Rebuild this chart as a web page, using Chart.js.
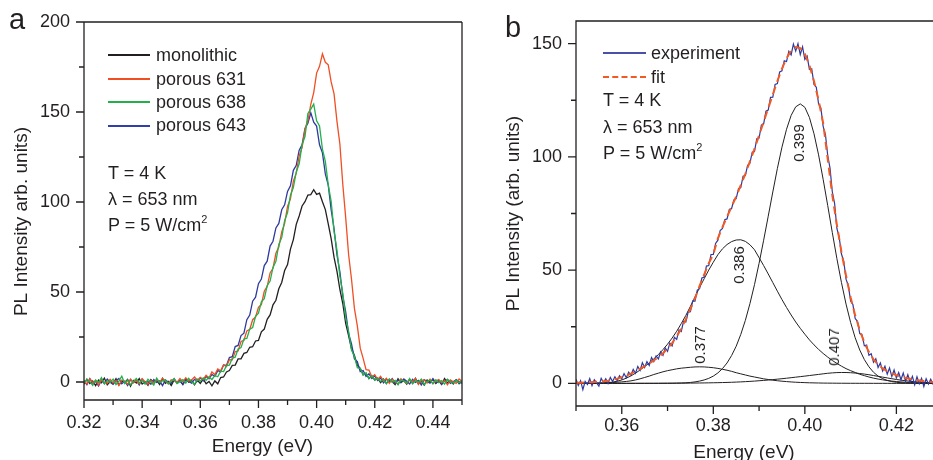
<!DOCTYPE html>
<html>
<head>
<meta charset="utf-8">
<title>PL spectra</title>
<script src="https://cdn.jsdelivr.net/npm/chart.js@4.4.1/dist/chart.umd.min.js"></script>
<style>
  html, body { margin: 0; padding: 0; background: #fff; }
  body {
    width: 933px; height: 460px; overflow: hidden; position: relative;
    font-family: "Liberation Sans", Arial, sans-serif; color: #231f20;
  }
  .panel { position: absolute; top: 0; }
  #panelA { left: 0; width: 470px; height: 460px; }
  #panelB { left: 490px; width: 445px; height: 480px; }
  .txt { position: absolute; font-size: 18px; line-height: 20px; white-space: nowrap; }
  .txt sup { font-size: 11px; line-height: 0; position: relative; top: -1px; }
  .key { position: absolute; height: 1.6px; }
  .key.dash { height: 0; border-top: 2px dashed #f15a24; }
  .peak {
    position: absolute; font-size: 15px; line-height: 16px; white-space: nowrap;
    transform: translate(-50%, -50%) rotate(-90deg);
  }
  .letter { position: absolute; font-size: 29px; line-height: 30px; }
</style>
</head>
<body>
<div class="panel" id="panelA"><canvas id="chartA" width="470" height="460"></canvas></div>
<div class="panel" id="panelB"><canvas id="chartB" width="445" height="480"></canvas></div>

<!-- panel letters -->
<div class="letter" style="left:9px;top:4px;">a</div>
<div class="letter" style="left:505px;top:12px;">b</div>

<!-- panel a key and conditions -->
<div class="key" style="left:108px;top:54px;width:42px;background:#231f20;"></div>
<div class="key" style="left:108px;top:78px;width:42px;background:#f04e23;"></div>
<div class="key" style="left:108px;top:101px;width:42px;background:#22b04b;"></div>
<div class="key" style="left:108px;top:125px;width:42px;background:#3140a8;"></div>
<div class="txt" style="left:156px;top:45px;">monolithic</div>
<div class="txt" style="left:156px;top:69px;">porous 631</div>
<div class="txt" style="left:156px;top:92px;">porous 638</div>
<div class="txt" style="left:156px;top:115px;">porous 643</div>
<div class="txt" style="left:108px;top:163px;">T = 4 K</div>
<div class="txt" style="left:108px;top:189px;">&lambda; = 653 nm</div>
<div class="txt" style="left:108px;top:215px;">P = 5 W/cm<sup>2</sup></div>

<!-- panel b key and conditions -->
<div class="key" style="left:603px;top:52px;width:43px;background:#4a4fa8;"></div>
<div class="key dash" style="left:603px;top:76px;width:43px;"></div>
<div class="txt" style="left:651px;top:43px;">experiment</div>
<div class="txt" style="left:651px;top:67px;">fit</div>
<div class="txt" style="left:603px;top:90px;">T = 4 K</div>
<div class="txt" style="left:603px;top:117px;">&lambda; = 653 nm</div>
<div class="txt" style="left:603px;top:143px;">P = 5 W/cm<sup>2</sup></div>

<!-- peak positions of the fitted components -->
<div class="peak" style="left:799px;top:143px;">0.399</div>
<div class="peak" style="left:739px;top:265px;">0.386</div>
<div class="peak" style="left:700px;top:345px;">0.377</div>
<div class="peak" style="left:834px;top:347px;">0.407</div>

<script>
'use strict';

/* ──────────────────────────────────
   Data, panel a (0.320 .. 0.450 eV, 0.001 eV per point)
   ────────────────────────────────── */
var energyStartA = 0.32;
var energyStepA = 0.001;

var monolithic = [
  -1.2, 1.5, -0.8, 0.6, -2.0, 1.1, -0.4, 2.2, -1.5, 0.3,
  -0.9, 1.8, -1.7, 0.5, -0.2, 1.4, -2.3, 0.8, -0.6, 1.9,
  -1.1, 0.2, -1.8, 1.3, -0.3, 0.9, -1.4, 2.0, -0.7, 0.4,
  -1.9, 1.2, -0.5, 0.7, -1.3, 1.6, -0.1, 0.9, -1.6, 1.0,
  -0.8, 1.7, -1.0, 0.3, -2.1, 0.6, -1.0, 2.5, 2.8, 5.6,
  6.4, 9.2, 9.4, 12.8, 12.9, 15.9, 16.4, 19.3, 19.6, 22.8,
  23.1, 27.9, 29.4, 34.8, 37.3, 42.9, 45.4, 51.8, 55.3, 61.9,
  65.2, 73.8, 79.1, 87.6, 92.2, 97.8, 100.2, 103.9, 104.1, 106.8,
  104.2, 104.9, 100.1, 95.8, 87.9, 79.6, 69.2, 61.5, 51.4, 43.6,
  32.5, 25.8, 18.4, 14.7, 9.2, 7.6, 4.1, 4.8, 1.9, 3.3,
  1.2, 2.1, -0.4, 1.6, -0.9, 1.3, 0.2, -1.5, 1.8, -0.3,
  0.9, -1.2, 1.4, -0.6, 2.0, -1.0, 0.5, -1.7, 1.1, -0.2,
  1.5, -0.8, 0.7, -1.3, 1.9, -0.5, 0.6, -1.1, 1.3, 0.1,
  -0.7
];

var porous631 = [
  0.4, -1.1, 1.7, -0.3, 0.9, -1.6, 1.2, 0.0, -0.8, 1.5,
  -0.5, 0.8, -1.9, 1.1, 0.3, -1.2, 1.6, -0.4, 0.6, -1.0,
  1.8, 0.2, -1.3, 0.9, -0.6, 1.4, -0.1, 2.0, 0.5, -0.9,
  1.3, 0.7, -0.2, 1.9, 0.1, 2.3, 0.6, 1.2, 2.8, 1.0,
  2.6, 1.4, 3.7, 2.2, 5.6, 4.1, 7.3, 6.2, 9.5, 8.6,
  12.4, 12.3, 16.9, 17.2, 22.5, 23.1, 28.4, 29.2, 34.6, 36.1,
  41.5, 43.0, 50.4, 53.1, 60.6, 63.2, 71.5, 75.0, 83.4, 88.2,
  97.5, 101.8, 111.6, 116.0, 125.7, 130.2, 140.4, 145.1, 154.3, 160.8,
  171.6, 175.4, 182.3, 177.6, 176.2, 166.7, 160.1, 144.8, 132.2, 109.9,
  91.3, 70.8, 57.1, 40.9, 31.2, 18.8, 13.1, 6.9, 6.6, 2.8,
  4.1, 1.4, 3.2, 0.6, 2.1, -0.7, 1.5, 0.2, -1.2, 1.8,
  0.4, -0.9, 1.3, -0.2, 2.0, -1.4, 0.8, 1.1, -0.6, 1.6,
  -1.0, 0.5, 1.4, -0.3, 0.9, -1.5, 1.2, 0.1, -0.8, 1.7,
  0.3
];

var porous638 = [
  -0.6, 1.4, 0.2, -1.8, 1.1, -0.3, 2.4, -1.0, 0.7, -0.2,
  1.6, -1.4, 0.5, 3.2, -0.8, 1.0, -1.6, 0.3, 1.9, -0.5,
  0.8, -1.2, 1.5, 0.0, -1.7, 2.1, -0.4, 0.6, 1.2, -1.1,
  0.4, 1.8, -0.9, 0.2, 1.3, -0.6, 2.0, 0.1, -1.3, 1.6,
  0.5, 2.3, 0.9, 2.8, 1.4, 3.6, 2.9, 6.0, 5.8, 9.1,
  9.4, 13.2, 13.8, 18.3, 19.1, 23.9, 24.2, 29.4, 30.3, 36.5,
  38.2, 44.6, 46.3, 53.5, 56.1, 63.7, 67.0, 76.4, 80.2, 89.6,
  94.1, 103.8, 108.0, 116.7, 121.2, 131.9, 136.4, 149.2, 151.6, 154.4,
  145.1, 142.3, 129.4, 122.6, 109.5, 100.4, 83.7, 73.2, 58.8, 49.3,
  35.6, 28.1, 17.7, 14.2, 7.9, 7.6, 3.8, 5.1, 1.9, 3.6,
  0.9, 2.0, 0.3, 1.4, -0.8, 1.7, -0.2, 0.9, -1.5, 1.2,
  0.5, -0.6, 1.9, -1.1, 0.7, -0.1, 1.6, -1.4, 0.4, 1.1,
  -0.9, 1.3, -0.3, 0.8, -1.2, 1.5, 0.2, -0.7, 1.0, -0.4,
  0.6
];

var porous643 = [
  0.8, -1.5, 1.9, -0.6, 0.3, -2.2, 1.0, -0.9, 1.6, -0.1,
  -1.3, 0.7, 2.0, -1.0, 0.4, -1.9, 1.3, -0.4, 0.9, -1.6,
  1.7, -0.7, 0.2, -1.2, 1.4, -0.3, 0.6, -2.0, 1.1, 0.0,
  -0.8, 1.8, -0.5, 0.8, -1.4, 1.2, 0.3, -0.6, 1.5, 0.4,
  2.3, 0.6, 3.1, 1.8, 4.2, 3.1, 6.3, 5.6, 9.4, 9.2,
  13.6, 14.1, 19.7, 20.3, 25.8, 27.1, 34.6, 37.2, 44.9, 47.1,
  54.6, 57.2, 64.7, 67.1, 75.5, 78.2, 85.6, 88.1, 95.7, 98.4,
  105.9, 109.0, 117.6, 120.4, 128.8, 131.7, 140.9, 143.8, 149.6, 144.3,
  142.2, 131.8, 127.3, 115.6, 109.4, 95.8, 85.1, 70.6, 61.2, 47.7,
  39.0, 26.9, 21.2, 12.8, 11.3, 5.8, 6.4, 3.1, 4.6, 1.9,
  3.4, 0.8, 2.2, -0.5, 1.6, 0.1, 1.9, -0.9, 1.2, -0.3,
  1.7, 0.4, -1.1, 1.5, -0.2, 0.9, -1.6, 1.3, 0.2, -0.7,
  1.8, -0.4, 1.0, -1.3, 0.6, 1.4, -0.8, 0.3, 1.1, -1.0,
  0.5
];

var xMajorA = [0.32, 0.34, 0.36, 0.38, 0.40, 0.42, 0.44];
var xMinorA = [0.33, 0.35, 0.37, 0.39, 0.41, 0.43, 0.45];
var yMajorA = [0, 50, 100, 150, 200];
var yMinorA = [25, 75, 125, 175];

/* ──────────────────────────────────
   Data, panel b
   experiment: 0.350 .. 0.428 eV, 0.0005 eV per point
   fit and components: 0.350 .. 0.428 eV, 0.001 eV per point
   ────────────────────────────────── */
var energyStartB = 0.35;
var expStepB = 0.0005;
var fitStepB = 0.001;

var experiment = [
  1.8, -0.9, 1.2, -2.8, 0.9, -0.5, 2.1, -1.0, 1.6, 0.2,
  -1.2, 2.2, 0.4, 2.0, -0.1, 2.6, 0.8, 2.9, 1.2, 3.4,
  1.9, 4.3, 2.5, 4.9, 3.6, 6.2, 4.4, 7.5, 5.7, 9.1,
  7.0, 9.6, 7.9, 11.4, 9.6, 12.1, 10.8, 13.9, 12.4, 15.6,
  14.1, 17.8, 16.5, 20.3, 19.4, 23.6, 22.9, 27.4, 27.1, 31.5,
  31.6, 36.4, 36.3, 41.2, 41.8, 46.5, 46.9, 51.8, 52.0, 56.9,
  56.9, 61.8, 63.2, 67.5, 68.4, 72.3, 72.6, 76.8, 77.2, 81.0,
  81.6, 86.0, 86.4, 91.5, 91.8, 96.3, 97.2, 102.1, 102.4, 108.0,
  108.3, 114.0, 114.6, 120.2, 120.7, 126.3, 126.4, 132.0, 132.4, 137.5,
  138.0, 142.4, 142.1, 146.6, 145.0, 149.8, 146.7, 150.0, 145.2, 148.6,
  143.0, 144.5, 138.6, 138.9, 132.0, 130.8, 123.4, 121.6, 113.5, 109.8,
  100.6, 95.0, 84.6, 79.5, 68.4, 64.6, 57.1, 53.9, 46.0, 43.1,
  36.4, 34.8, 28.6, 27.4, 22.0, 21.4, 16.6, 16.9, 12.4, 13.1,
  9.3, 10.9, 7.0, 9.0, 5.4, 7.6, 4.1, 6.8, 3.0, 5.9,
  2.4, 4.8, 1.6, 4.6, 0.9, 3.8, 0.5, 3.1, -0.6, 2.9,
  -0.2, 2.2, -1.4, 2.0, -0.3, 1.8, -0.5
];

var fit = [
  0.3, 0.3, 0.4, 0.5, 0.6, 0.7, 0.9, 1.2, 1.6, 2.1,
  2.7, 3.4, 4.3, 5.3, 6.4, 7.6, 8.8, 10.1, 11.6, 13.3,
  15.3, 17.8, 20.7, 24.2, 28.3, 32.8, 37.5, 43, 48, 53,
  57, 64, 69, 73.5, 78, 82.5, 87.5, 92.5, 98, 103.5,
  109.5, 115.5, 121.5, 127.5, 133.5, 139, 143.5, 147, 148.5, 148,
  145.5, 140.5, 133.5, 125, 115, 99, 83, 70, 58, 47.5,
  38, 30, 23.5, 18, 13.8, 10.6, 8.3, 6.6, 5.4, 4.4,
  3.6, 3.0, 2.4, 2.0, 1.6, 1.3, 1.0, 0.8, 0.6
];

var peak377 = [
  0.02, 0.03, 0.05, 0.07, 0.1, 0.14, 0.2, 0.28, 0.38, 0.5,
  0.65, 0.85, 1.1, 1.5, 2.0, 2.6, 3.2, 3.9, 4.5, 5.1,
  5.6, 6.0, 6.4, 6.7, 6.9, 7.1, 7.25, 7.3, 7.25, 7.1,
  6.9, 6.6, 6.2, 5.8, 5.3, 4.7, 4.2, 3.7, 3.2, 2.8,
  2.4, 2.0, 1.7, 1.4, 1.15, 0.95, 0.78, 0.62, 0.5, 0.4,
  0.32, 0.25, 0.2, 0.16, 0.12, 0.1, 0.08, 0.06, 0.05, 0.04,
  0.03, 0.03, 0.02, 0.02, 0.02, 0.01, 0.01, 0.01, 0.01, 0,
  0, 0, 0, 0, 0, 0, 0, 0, 0
];

var peak386 = [
  0, 0, 0.01, 0.02, 0.04, 0.08, 0.15, 0.3, 0.55, 0.95,
  1.5, 2.3, 3.3, 4.5, 5.9, 7.4, 9.0, 10.8, 12.7, 14.9,
  17.3, 20.0, 23.0, 26.4, 30.0, 34.0, 38.2, 42.3, 46.2, 50.0,
  53.5, 56.8, 59.4, 61.3, 62.6, 63.3, 63.4, 62.7, 61.2, 59.0,
  55.5, 52.0, 48.3, 44.5, 40.7, 37.0, 33.5, 30.2, 27.1, 24.3,
  21.7, 19.2, 17.0, 15.0, 13.2, 11.6, 10.1, 8.8, 7.6, 6.5,
  5.6, 4.8, 4.0, 3.4, 2.8, 2.3, 1.9, 1.55, 1.25, 1.0,
  0.8, 0.63, 0.5, 0.38, 0.29, 0.22, 0.17, 0.13, 0.1
];

var peak399 = [
  0, 0, 0, 0, 0, 0, 0, 0, 0, 0,
  0, 0, 0, 0, 0, 0, 0, 0, 0, 0.02,
  0.03, 0.05, 0.09, 0.15, 0.24, 0.4, 0.64, 1.0, 1.5, 2.2,
  3.2, 4.6, 6.5, 9.0, 12.3, 16.4, 21.6, 27.8, 35.2, 43.6,
  53.0, 63.2, 73.8, 84.5, 94.9, 104.3, 112.2, 118.3, 122.1, 123.4,
  121.9, 117.4, 110.2, 100.9, 90.1, 78.5, 66.6, 55.1, 44.5, 35.0,
  26.9, 20.1, 14.7, 10.5, 7.3, 4.9, 3.2, 2.1, 1.3, 0.8,
  0.48, 0.28, 0.16, 0.09, 0.05, 0.03, 0.02, 0.01, 0
];

var peak407 = [
  0, 0, 0, 0, 0, 0, 0, 0, 0, 0.01,
  0.01, 0.01, 0.01, 0.02, 0.02, 0.02, 0.03, 0.03, 0.04, 0.05,
  0.06, 0.07, 0.08, 0.09, 0.1, 0.12, 0.14, 0.16, 0.19, 0.22,
  0.26, 0.3, 0.35, 0.41, 0.48, 0.56, 0.65, 0.75, 0.87, 1.0,
  1.15, 1.3, 1.47, 1.65, 1.85, 2.05, 2.27, 2.5, 2.73, 2.97,
  3.2, 3.45, 3.7, 3.95, 4.2, 4.45, 4.62, 4.75, 4.8, 4.78,
  4.7, 4.55, 4.35, 4.1, 3.8, 3.45, 3.1, 2.75, 2.4, 2.05,
  1.72, 1.42, 1.15, 0.92, 0.72, 0.56, 0.43, 0.32, 0.24
];

var xMajorB = [0.36, 0.38, 0.40, 0.42];
var xMinorB = [0.35, 0.37, 0.39, 0.41];
var yMajorB = [0, 50, 100, 150];
var yMinorB = [25, 75, 125];

/* ──────────────────────────────────
   Styling
   ────────────────────────────────── */
var INK = '#231f20';
var FONT = '"Liberation Sans", Arial, sans-serif';

function toPoints(values, start, step) {
  return values.map(function (v, i) {
    return { x: +(start + i * step).toFixed(5), y: v };
  });
}

function lineSet(label, values, start, step, color, width, dash) {
  return {
    label: label,
    data: toPoints(values, start, step),
    borderColor: color,
    borderWidth: width,
    borderDash: dash || [],
    pointRadius: 0,
    tension: 0,
    fill: false,
  };
}

/* frame, outward major / minor tick marks */
var frameTicks = {
  id: 'frameTicks',
  afterDraw: function (chart, args, o) {
    var ctx = chart.ctx;
    var a = chart.chartArea;
    var xs = chart.scales.x;
    var ys = chart.scales.y;
    ctx.save();
    ctx.strokeStyle = INK;
    ctx.lineWidth = 1.3;
    ctx.beginPath();
    ctx.moveTo(a.right, a.top);
    ctx.lineTo(a.left, a.top);
    ctx.lineTo(a.left, a.bottom);
    ctx.lineTo(a.right, a.bottom);
    if (o.closed) ctx.lineTo(a.right, a.top);
    o.xMajor.forEach(function (v) {
      var p = xs.getPixelForValue(v);
      ctx.moveTo(p, a.bottom);
      ctx.lineTo(p, a.bottom + 8);
    });
    o.xMinor.forEach(function (v) {
      var p = xs.getPixelForValue(v);
      ctx.moveTo(p, a.bottom);
      ctx.lineTo(p, a.bottom + 5);
    });
    o.yMajor.forEach(function (v) {
      var p = ys.getPixelForValue(v);
      ctx.moveTo(a.left, p);
      ctx.lineTo(a.left - 8, p);
    });
    o.yMinor.forEach(function (v) {
      var p = ys.getPixelForValue(v);
      ctx.moveTo(a.left, p);
      ctx.lineTo(a.left - 5, p);
    });
    ctx.stroke();
    ctx.restore();
  },
};
Chart.register(frameTicks);

function panelOptions(cfg) {
  return {
    responsive: false,
    animation: false,
    events: [],
    layout: { padding: { left: 0, top: cfg.padTop, right: cfg.padRight, bottom: 0 } },
    plugins: {
      legend: { display: false },
      tooltip: { enabled: false },
      frameTicks: {
        closed: cfg.closed,
        xMajor: cfg.xMajor,
        xMinor: cfg.xMinor,
        yMajor: cfg.yMajor,
        yMinor: cfg.yMinor,
      },
    },
    scales: {
      x: {
        type: 'linear',
        min: cfg.xMin,
        max: cfg.xMax,
        grid: { display: false },
        border: { display: false },
        ticks: {
          autoSkip: false,
          maxRotation: 0,
          padding: cfg.xPad,
          color: INK,
          font: { family: FONT, size: 18 },
          callback: function (v) { return Number(v).toFixed(2); },
        },
        afterBuildTicks: function (s) {
          s.ticks = cfg.xMajor.map(function (v) { return { value: v }; });
        },
        afterFit: function (s) { s.height = cfg.xAxisHeight; },
        title: {
          display: true,
          text: 'Energy (eV)    ',
          color: INK,
          font: { family: FONT, size: 19 },
          padding: { top: 0, bottom: cfg.xTitlePad },
        },
      },
      y: {
        type: 'linear',
        min: cfg.yMin,
        max: cfg.yMax,
        grid: { display: false },
        border: { display: false },
        ticks: {
          autoSkip: false,
          padding: 6,
          color: INK,
          font: { family: FONT, size: 18 },
          callback: function (v) { return String(v); },
        },
        afterBuildTicks: function (s) {
          s.ticks = cfg.yMajor.map(function (v) { return { value: v }; });
        },
        afterFit: function (s) { s.width = cfg.yAxisWidth; },
        title: {
          display: true,
          text: cfg.yTitle,
          color: INK,
          font: { family: FONT, size: 19 },
          padding: { top: cfg.yTitlePad, bottom: 0 },
        },
      },
    },
  };
}

/* ──────────────────────────────────
   Panel a
   ────────────────────────────────── */
new Chart(document.getElementById('chartA').getContext('2d'), {
  type: 'line',
  data: {
    datasets: [
      lineSet('porous 638', porous638, energyStartA, energyStepA, '#22b04b', 1.3),
      lineSet('porous 631', porous631, energyStartA, energyStepA, '#f04e23', 1.3),
      lineSet('porous 643', porous643, energyStartA, energyStepA, '#2e3a9e', 1.3),
      lineSet('monolithic', monolithic, energyStartA, energyStepA, '#231f20', 1.3),
    ],
  },
  options: panelOptions({
    padTop: 22, padRight: 8,
    xMin: 0.32, xMax: 0.45, yMin: -10, yMax: 200,
    xMajor: xMajorA, xMinor: xMinorA, yMajor: yMajorA, yMinor: yMinorA,
    closed: true,
    xAxisHeight: 60, yAxisWidth: 84,
    xPad: 4, xTitlePad: 2, yTitlePad: 10,
    yTitle: 'PL Intensity arb. units)    ',
  }),
});

/* ──────────────────────────────────
   Panel b
   ────────────────────────────────── */
new Chart(document.getElementById('chartB').getContext('2d'), {
  type: 'line',
  data: {
    datasets: [
      lineSet('fit', fit, energyStartB, fitStepB, '#f15a24', 2, [8, 5]),
      lineSet('experiment', experiment, energyStartB, expStepB, '#2e3a9e', 1.2),
      lineSet('0.377', peak377, energyStartB, fitStepB, INK, 1),
      lineSet('0.386', peak386, energyStartB, fitStepB, INK, 1),
      lineSet('0.399', peak399, energyStartB, fitStepB, INK, 1),
      lineSet('0.407', peak407, energyStartB, fitStepB, INK, 1),
    ],
  },
  options: panelOptions({
    padTop: 21, padRight: 2,
    xMin: 0.35, xMax: 0.428, yMin: -10, yMax: 160,
    xMajor: xMajorB, xMinor: xMinorB, yMajor: yMajorB, yMinor: yMinorB,
    closed: false,
    xAxisHeight: 74, yAxisWidth: 86,
    xPad: 1, xTitlePad: 16, yTitlePad: 12,
    yTitle: 'PL Intensity (arb. units)',
  }),
});
</script>
</body>
</html>
